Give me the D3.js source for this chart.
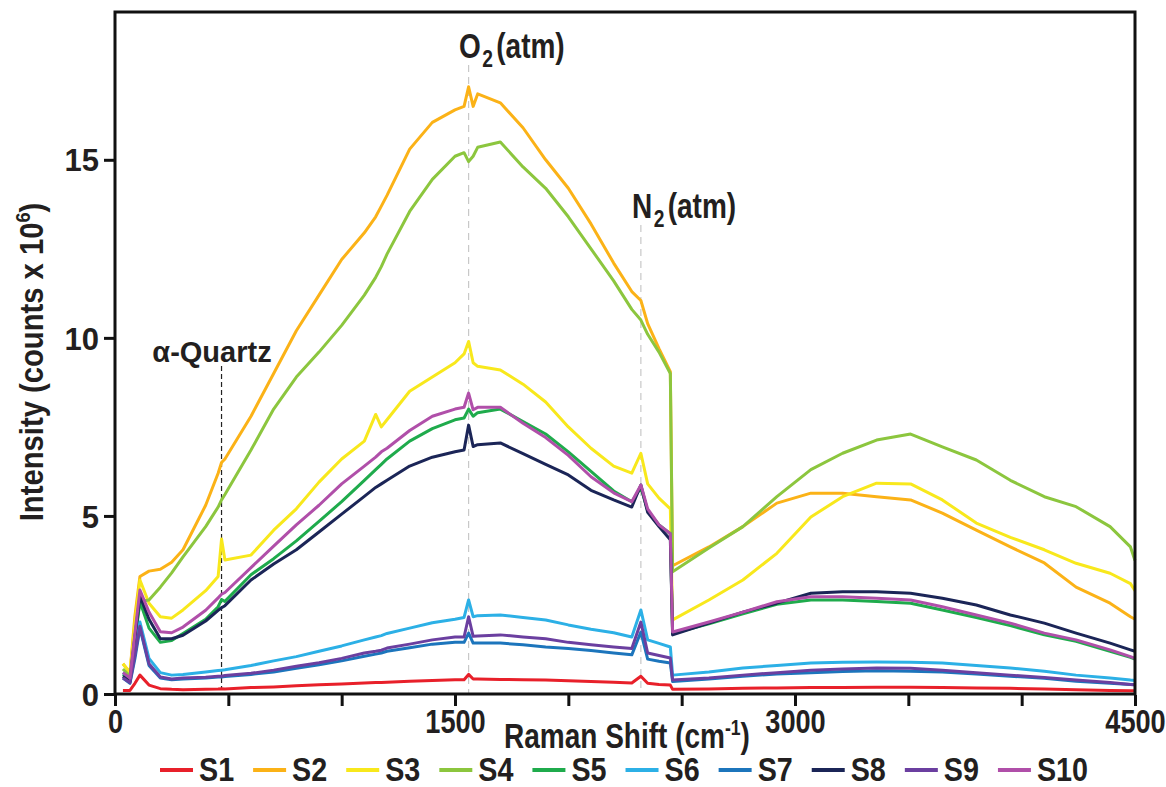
<!DOCTYPE html>
<html>
<head>
<meta charset="utf-8">
<script src="https://cdn.jsdelivr.net/npm/d3@7"></script>
<style>
  body { margin: 0; background: #fff; }
  svg { display: block; }
  .lbl { font-family: 'Liberation Sans', Arial, Helvetica, sans-serif; font-weight: bold; fill: #231f20; }
</style>
</head>
<body>
<div id="container"></div>
<script>
// Raman shift (cm-1) sample positions
const shifts = [35, 66, 88, 110, 150, 200, 250, 300, 400, 455, 470, 485, 600, 700, 800, 900, 1000, 1100, 1150, 1175,
                1200, 1300, 1400, 1500, 1540, 1560, 1580, 1600, 1700, 1800, 1900, 2000, 2100, 2200, 2280, 2320, 2350, 2400, 2450,
                2460, 2620, 2770, 2920, 3070, 3210, 3360, 3510, 3650, 3800, 3950, 4100, 4240, 4390, 4480, 4500];

// intensities (counts x 10^6)
const s1 = [0.1, 0.1, 0.3, 0.53, 0.25, 0.15, 0.13, 0.12, 0.13, 0.14, 0.15, 0.14, 0.18, 0.2, 0.23, 0.26, 0.28, 0.31, 0.32, 0.32,
            0.33, 0.36, 0.38, 0.4, 0.4, 0.55, 0.42, 0.42, 0.41, 0.4, 0.39, 0.37, 0.35, 0.33, 0.31, 0.5, 0.3, 0.27, 0.25,
            0.13, 0.14, 0.16, 0.17, 0.18, 0.18, 0.19, 0.19, 0.18, 0.17, 0.16, 0.14, 0.12, 0.1, 0.09, 0.09];
const s2 = [0.85, 0.6, 2.2, 3.3, 3.45, 3.5, 3.7, 4.05, 5.3, 6.2, 6.5, 6.6, 7.8, 9.0, 10.2, 11.2, 12.2, 12.95, 13.4, 13.7,
            14.0, 15.3, 16.05, 16.4, 16.5, 17.05, 16.5, 16.85, 16.6, 15.9, 15.0, 14.2, 13.2, 12.1, 11.3, 11.05, 10.4, 9.7, 9.05,
            3.6, 4.13, 4.7, 5.36, 5.64, 5.64, 5.54, 5.45, 5.08, 4.6, 4.13, 3.68, 3.0, 2.55, 2.17, 2.1];
const s3 = [0.85, 0.6, 2.0, 3.2, 2.55, 2.17, 2.13, 2.36, 2.9, 3.3, 4.35, 3.76, 3.9, 4.6, 5.2, 5.95, 6.6, 7.1, 7.85, 7.5,
            7.7, 8.5, 8.9, 9.3, 9.55, 9.9, 9.3, 9.2, 9.1, 8.7, 8.2, 7.5, 6.9, 6.4, 6.2, 6.76, 5.9, 5.5, 5.2,
            2.08, 2.64, 3.2, 3.95, 4.97, 5.54, 5.92, 5.9, 5.45, 4.8, 4.4, 4.05, 3.67, 3.39, 3.1, 2.9];
const s4 = [0.7, 0.5, 1.6, 2.6, 2.64, 3.0, 3.4, 3.85, 4.7, 5.25, 5.45, 5.6, 6.85, 8.0, 8.9, 9.6, 10.35, 11.2, 11.7, 12.0,
            12.35, 13.55, 14.45, 15.1, 15.2, 14.95, 15.1, 15.35, 15.5, 14.8, 14.2, 13.4, 12.5, 11.6, 10.8, 10.5, 10.1, 9.6, 9.0,
            3.43, 4.1, 4.7, 5.54, 6.3, 6.76, 7.13, 7.3, 6.94, 6.57, 6.0, 5.54, 5.26, 4.7, 4.13, 3.75];
const s5 = [0.55, 0.4, 1.5, 2.6, 1.85, 1.45, 1.5, 1.7, 2.1, 2.45, 2.65, 2.6, 3.35, 3.8, 4.3, 4.85, 5.4, 6.0, 6.3, 6.45,
            6.6, 7.1, 7.45, 7.7, 7.75, 8.0, 7.8, 7.9, 8.0, 7.65, 7.3, 6.8, 6.25, 5.7, 5.4, 5.8, 5.15, 4.75, 4.5,
            1.7, 1.97, 2.25, 2.52, 2.64, 2.64, 2.6, 2.55, 2.36, 2.15, 1.92, 1.66, 1.48, 1.2, 1.03, 0.98];
const s6 = [0.6, 0.4, 1.2, 2.02, 1.0, 0.6, 0.53, 0.55, 0.62, 0.66, 0.67, 0.68, 0.8, 0.93, 1.05, 1.2, 1.35, 1.52, 1.6, 1.64,
            1.7, 1.85, 2.0, 2.1, 2.15, 2.64, 2.17, 2.2, 2.22, 2.15, 2.08, 1.94, 1.82, 1.72, 1.6, 2.36, 1.52, 1.42, 1.32,
            0.53, 0.62, 0.73, 0.8, 0.87, 0.89, 0.9, 0.89, 0.87, 0.8, 0.73, 0.64, 0.53, 0.45, 0.39, 0.38];
const s7 = [0.45, 0.3, 1.0, 1.85, 0.8, 0.45, 0.4, 0.42, 0.45, 0.48, 0.48, 0.49, 0.55, 0.62, 0.72, 0.82, 0.93, 1.06, 1.12, 1.15,
            1.2, 1.3, 1.4, 1.45, 1.45, 1.71, 1.43, 1.43, 1.43, 1.38, 1.32, 1.28, 1.22, 1.15, 1.1, 1.74, 0.98, 0.92, 0.87,
            0.35, 0.42, 0.5, 0.56, 0.6, 0.63, 0.65, 0.64, 0.62, 0.56, 0.5, 0.44, 0.36, 0.3, 0.27, 0.26];
const s8 = [0.5, 0.35, 1.6, 2.75, 2.1, 1.55, 1.55, 1.65, 2.05, 2.35, 2.42, 2.48, 3.2, 3.65, 4.05, 4.55, 5.05, 5.55, 5.8, 5.9,
            6.0, 6.4, 6.65, 6.8, 6.85, 7.55, 6.95, 7.0, 7.05, 6.75, 6.45, 6.15, 5.72, 5.45, 5.25, 5.87, 5.1, 4.7, 4.33,
            1.66, 1.99, 2.3, 2.55, 2.83, 2.87, 2.87, 2.83, 2.69, 2.5, 2.22, 1.99, 1.71, 1.43, 1.24, 1.2];
const s9 = [0.45, 0.32, 1.1, 1.9, 0.85, 0.48, 0.42, 0.45, 0.47, 0.5, 0.5, 0.52, 0.58, 0.67, 0.78, 0.88, 1.0, 1.15, 1.2, 1.23,
            1.29, 1.4, 1.52, 1.6, 1.6, 2.17, 1.62, 1.63, 1.66, 1.6, 1.55, 1.45, 1.38, 1.32, 1.28, 2.02, 1.15, 1.08, 1.01,
            0.39, 0.45, 0.53, 0.6, 0.67, 0.7, 0.73, 0.72, 0.67, 0.6, 0.53, 0.46, 0.39, 0.32, 0.27, 0.26];
const s10 = [0.6, 0.45, 1.7, 2.92, 2.3, 1.75, 1.72, 1.88, 2.35, 2.7, 2.8, 2.85, 3.55, 4.15, 4.75, 5.3, 5.9, 6.4, 6.65, 6.8,
             6.9, 7.4, 7.8, 8.0, 8.05, 8.45, 7.98, 8.05, 8.05, 7.6, 7.2, 6.7, 6.1, 5.65, 5.4, 5.87, 5.2, 4.75, 4.5,
             1.74, 2.02, 2.3, 2.59, 2.73, 2.73, 2.69, 2.64, 2.45, 2.22, 1.99, 1.71, 1.52, 1.24, 1.05, 1.0];

const seriesNames = ["S1", "S2", "S3", "S4", "S5", "S6", "S7", "S8", "S9", "S10"];
const seriesValues = [s1, s2, s3, s4, s5, s6, s7, s8, s9, s10];
const colors = ["#e8202a", "#fbb217", "#f8e81c", "#8cc63e", "#1fab4c", "#2cb0e6", "#1c75bc", "#1b2557", "#6b3fa0", "#b04fa9"];

const xTicks = [0, 500, 1000, 1500, 2000, 2500, 3000, 3500, 4000, 4500];
const xTickLabels = [0, 1500, 3000, 4500];
const yTicks = [0, 5, 10, 15];

// annotated bands
const quartzShift = 470;
const o2Shift = 1560;
const n2Shift = 2320;

const w = 1166, h = 787;
const mLeft = 115, mRight = 1135, mTop = 12, mBottom = 694;
const narrow = 0.8; // horizontal squeeze to mimic a condensed face

const svg = d3.select("#container").append("svg").attr("width", w).attr("height", h);

const xScale = d3.scaleLinear().domain([0, 4500]).range([mLeft, mRight]);
const yScale = d3.scaleLinear().domain([0, 19.15]).range([mBottom, mTop]);

// reference lines
svg.append("line")
   .attr("x1", xScale(o2Shift)).attr("x2", xScale(o2Shift))
   .attr("y1", 65).attr("y2", mBottom)
   .attr("stroke", "#c8c8c8").attr("stroke-width", 1.2).attr("stroke-dasharray", "7,5");
svg.append("line")
   .attr("x1", xScale(n2Shift)).attr("x2", xScale(n2Shift))
   .attr("y1", 225).attr("y2", mBottom)
   .attr("stroke", "#c8c8c8").attr("stroke-width", 1.2).attr("stroke-dasharray", "7,5");
svg.append("line")
   .attr("x1", xScale(quartzShift)).attr("x2", xScale(quartzShift))
   .attr("y1", 366).attr("y2", 690)
   .attr("stroke", "#222").attr("stroke-width", 1.2).attr("stroke-dasharray", "5,3");

// spectra
const line = d3.line()
               .x((d, i) => xScale(shifts[i]))
               .y((d) => yScale(d));

svg.selectAll(".spectrum")
   .data(seriesValues)
   .enter()
   .append("path")
   .attr("class", "spectrum")
   .attr("d", (d) => line(d))
   .attr("fill", "none")
   .attr("stroke", (d, i) => colors[i])
   .attr("stroke-width", 3)
   .attr("stroke-linejoin", "round");

// frame
svg.append("rect")
   .attr("x", mLeft).attr("y", mTop)
   .attr("width", mRight - mLeft).attr("height", mBottom - mTop)
   .attr("fill", "none").attr("stroke", "#111").attr("stroke-width", 3);

// axes
const xAxis = d3.axisBottom(xScale)
                .tickValues(xTicks)
                .tickSize(11)
                .tickFormat((d) => xTickLabels.includes(d) ? d : "");
const yAxis = d3.axisLeft(yScale)
                .tickValues(yTicks)
                .tickSize(11);

const gx = svg.append("g").attr("id", "x-axis")
              .attr("transform", "translate(0," + (mBottom + 1) + ")")
              .call(xAxis);
gx.select(".domain").remove();
gx.selectAll(".tick line").attr("stroke", "#111").attr("stroke-width", 3);
gx.selectAll(".tick text")
  .attr("class", "lbl")
  .attr("y", 14)
  .attr("transform", "scale(" + narrow + ",1)")
  .style("font-size", "34px");

const gy = svg.append("g").attr("id", "y-axis")
              .attr("transform", "translate(" + mLeft + ",0)")
              .call(yAxis);
gy.select(".domain").remove();
gy.selectAll(".tick line").attr("stroke", "#111").attr("stroke-width", 3);
gy.selectAll(".tick text")
  .attr("class", "lbl")
  .attr("x", -16)
  .attr("dy", "0.36em")
  .style("font-size", "31px");

// axis titles
const xt = svg.append("text").attr("class", "lbl")
              .attr("transform", "translate(627,748) scale(" + narrow + ",1)")
              .attr("text-anchor", "middle")
              .style("font-size", "35px");
xt.append("tspan").text("Raman Shift (cm");
xt.append("tspan").text("-1").attr("dy", -13).style("font-size", "22px");
xt.append("tspan").text(")").attr("dy", 13);

const yt = svg.append("text").attr("class", "lbl")
              .attr("transform", "translate(43,362) rotate(-90) scale(0.86,1)")
              .attr("text-anchor", "middle")
              .style("font-size", "34px");
yt.append("tspan").text("Intensity (counts x 10");
yt.append("tspan").text("6").attr("dy", -13).style("font-size", "21px");
yt.append("tspan").text(")").attr("dy", 13);

// band labels
svg.append("text").attr("class", "lbl")
   .attr("x", 212).attr("y", 362)
   .attr("text-anchor", "middle")
   .style("font-size", "29px")
   .text("\u03b1-Quartz");

function bandLabel(x, y, letter) {
  const t = svg.append("text").attr("class", "lbl")
               .attr("transform", "translate(" + x + "," + y + ") scale(" + narrow + ",1)")
               .style("font-size", "35px");
  t.append("tspan").text(letter);
  t.append("tspan").text("2").attr("dy", 9).attr("dx", 2).style("font-size", "24px");
  t.append("tspan").text("(atm)").attr("dy", -9).attr("dx", 4);
}
bandLabel(459, 58, "O");
bandLabel(632, 218, "N");

// legend
const legend = svg.append("g").attr("id", "legend");
const items = legend.selectAll("g")
                    .data(seriesNames)
                    .enter()
                    .append("g");
items.append("line")
     .attr("x1", 0).attr("x2", 33)
     .attr("y1", 0).attr("y2", 0)
     .attr("stroke", (d, i) => colors[i])
     .attr("stroke-width", 4);
items.append("text")
     .attr("class", "lbl")
     .attr("transform", "translate(39,11) scale(0.87,1)")
     .style("font-size", "33px")
     .text((d) => d);

const widths = [];
items.each(function () {
  widths.push(39 + 0.87 * d3.select(this).select("text").node().getComputedTextLength());
});
const legStart = 160, legEnd = 1088;
const gap = (legEnd - legStart - d3.sum(widths)) / (widths.length - 1);
let pos = legStart;
items.attr("transform", (d, i) => {
  const t = "translate(" + pos + ",770)";
  pos += widths[i] + gap;
  return t;
});
</script>
</body>
</html>
